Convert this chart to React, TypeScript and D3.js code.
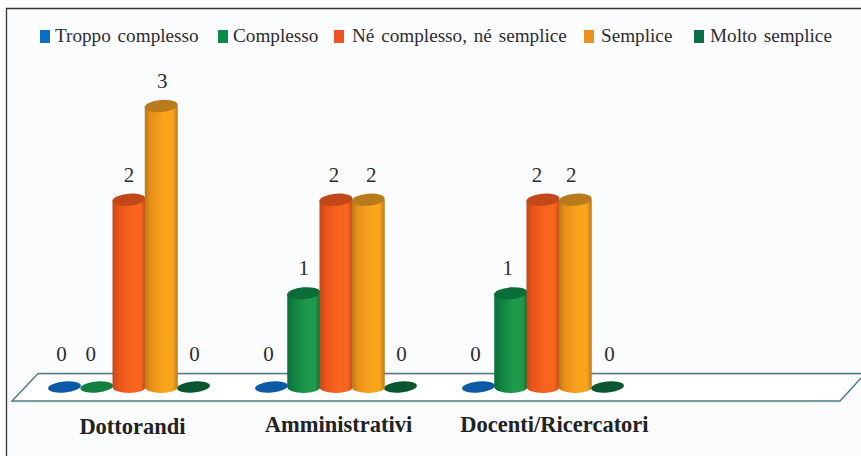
import React from "react";
import * as d3 from "d3";

const categories = ["Dottorandi", "Amministrativi", "Docenti/Ricercatori"];
const seriesNames = ["Troppo complesso", "Complesso", "Né complesso, né semplice", "Semplice", "Molto semplice"];
const troppoComplesso = [0, 0, 0];
const complesso = [0, 1, 1];
const neNe = [2, 2, 2];
const semplice = [3, 2, 2];
const moltoSemplice = [0, 0, 0];
const seriesValues = [troppoComplesso, complesso, neNe, semplice, moltoSemplice];

const light = ["#1a6fc0", "#1f9a4c", "#f8651e", "#f8a51c", "#0f6a3c"];
const mid = ["#0c5aa6", "#0f8040", "#e9541a", "#ea8f18", "#0a5630"];
const dark = ["#0a4f96", "#0b6e38", "#c2481a", "#b87a1a", "#07482a"];
const legendSwatch = ["#0a6fc0", "#0c8a4a", "#ef5224", "#e8921f", "#0a6f45"];
const legendX = [40, 218, 334, 584, 694];
const legendTextX = [55, 233, 352, 601, 710];

const catCenters = [128.5, 335.5, 542.5];
const labelShift = [
  [-3, -6, 0, 1, 1],
  [-3, 0, -2, 3, 1],
  [-3, -3, -6, -4, 2],
];
const catLabelX = [132.5, 338.5, 554.5];
const catLabelY = [434, 432, 432];

const gx = d3.scaleOrdinal<string, number>().domain(categories).range(catCenters);
const sx = d3.scalePoint<number>().domain([0, 1, 2, 3, 4]).range([-64, 65]);
const y = d3.scaleLinear().domain([0, 3]).range([387, 106]);

const RX = 16.5;
const RY = 6;
const TILT = -5;

const font = "'Liberation Serif', serif";

export default function App() {
  const platform = "M861,378 L840,401 H12 L38,373.5 H861";
  const shapes = categories.flatMap((c, ci) =>
    seriesValues.map((vals, si) => ({ c, ci, si, v: vals[ci], cx: gx(c)! + sx(si)!, top: y(vals[ci]) }))
  );
  const zeros = shapes.filter((d) => d.v === 0);
  const bars = shapes.filter((d) => d.v !== 0);
  return (
    <svg width={861} height={456} style={{ position: "fixed", left: 0, top: 0, display: "block" }} fontFamily={font}>
      <defs>
        {light.map((col, i) => (
          <linearGradient key={i} id={`cyl${i}`} x1="0" x2="1" y1="0" y2="0">
            <stop offset="0" stopColor={dark[i]} />
            <stop offset="0.18" stopColor={mid[i]} />
            <stop offset="0.6" stopColor={col} />
            <stop offset="0.85" stopColor={col} />
            <stop offset="1" stopColor={dark[i]} />
          </linearGradient>
        ))}
      </defs>
      <rect width={861} height={456} fill="#ffffff" />
      <rect x={7} y={9} width={854} height={447} fill="#fbfcfe" />
      <path d="M6.5,456 V8.5 H861" fill="none" stroke="#333" strokeWidth={1.3} />

      {seriesNames.map((n, i) => (
        <g key={n}>
          <rect x={legendX[i]} y={30} width={10} height={13} fill={legendSwatch[i]} />
          <text x={legendTextX[i]} y={42} fontSize={19.2} fill="#2c2c30" style={{ wordSpacing: 2 }}>
            {n}
          </text>
        </g>
      ))}

      <path d="M38,373.5 H861 V378 L840,401 H12 Z" fill="#ffffff" />
      <path d={platform} transform="translate(0,1)" stroke="#f1c9b0" strokeWidth={1} fill="none" opacity={0.6} />
      <path d={platform} stroke="#4a7f90" strokeWidth={1.4} fill="none" />

      {zeros.map((d) => (
        <ellipse
          key={`z${d.ci}-${d.si}`}
          cx={d.cx}
          cy={387}
          rx={RX}
          ry={5.5}
          fill={mid[d.si]}
          transform={`rotate(${TILT} ${d.cx} 387)`}
        />
      ))}

      {bars.map((d) => (
        <g key={`b${d.ci}-${d.si}`}>
          <path
            d={`M${d.cx - RX},${d.top} V${y(0)} A${RX},${RY} 0 0 0 ${d.cx + RX},${y(0)} V${d.top} Z`}
            fill={`url(#cyl${d.si})`}
          />
          <ellipse
            cx={d.cx}
            cy={d.top}
            rx={RX}
            ry={RY}
            fill={dark[d.si]}
            transform={`rotate(${TILT} ${d.cx} ${d.top})`}
          />
        </g>
      ))}

      {shapes.map((d) => (
        <text
          key={`l${d.ci}-${d.si}`}
          x={d.cx + labelShift[d.ci][d.si]}
          y={d.v === 0 ? y(0) - 26 : d.top - 18}
          textAnchor="middle"
          fontSize={21}
          fill="#2c2c30"
        >
          {d.v}
        </text>
      ))}

      {categories.map((c, i) => (
        <text
          key={c}
          x={catLabelX[i]}
          y={catLabelY[i]}
          textAnchor="middle"
          fontSize={22.5}
          fontWeight="bold"
          fill="#222"
        >
          {c}
        </text>
      ))}
    </svg>
  );
}
